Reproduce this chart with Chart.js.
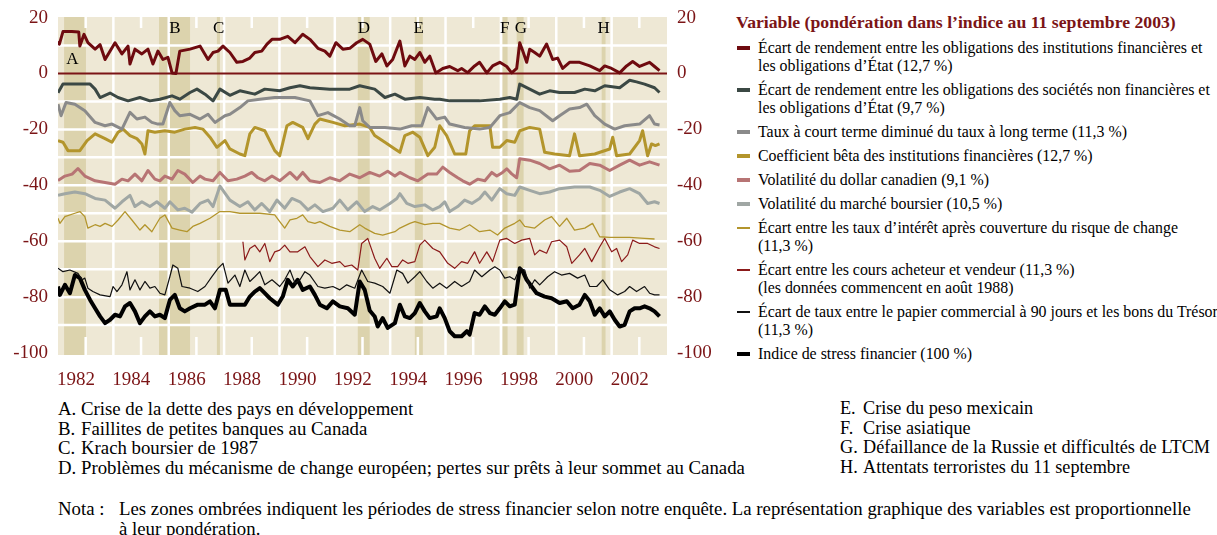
<!DOCTYPE html>
<html lang="fr">
<head>
<meta charset="utf-8">
<title>Indice de stress financier</title>
<script src="https://cdn.jsdelivr.net/npm/chart.js@4.4.1/dist/chart.umd.min.js"></script>
<style>
  body {
    margin: 0;
    background: #fff;
    font-family: "Liberation Serif", serif;
    color: #000;
    width: 1217px;
    height: 535px;
    position: relative;
    overflow: hidden;
  }
  #chart-box { position: absolute; left: 0; top: 0; width: 720px; height: 395px; }
  #legend { position: absolute; left: 736px; top: 10px; }
  #legend h2 {
    margin: 0 0 5px 0;
    font-size: 17.7px;
    line-height: 24px;
    font-weight: bold;
    color: #7b1416;
    white-space: nowrap;
  }
  .item {
    position: relative;
    padding-left: 22px;
    font-size: 15.9px;
    line-height: 18px;
    margin-bottom: 6px;
    white-space: nowrap;
  }
  .swatch { position: absolute; left: 1px; width: 13px; }
  #notes {
    position: absolute;
    left: 58px;
    top: 399px;
    font-size: 18.8px;
    line-height: 19.7px;
    white-space: nowrap;
  }
  .col { position: absolute; top: 0; }
  .col span { display: inline-block; width: 23px; }
  .col.right { font-size: 18.2px; }
  #nota { position: absolute; left: 0; top: 100px; }
  #nota span { display: inline-block; width: 61px; vertical-align: top; }
  #nota div { display: inline-block; }
</style>
</head>
<body>
<div id="chart-box"><canvas id="chart"></canvas></div>

<div id="legend">
  <h2>Variable (pondération dans l’indice au 11 septembre 2003)</h2>
  <div id="legend-items"></div>
</div>

<div id="notes">
  <div class="col" style="left:0">
    <div><span>A.</span>Crise de la dette des pays en développement</div>
    <div><span>B.</span>Faillites de petites banques au Canada</div>
    <div><span>C.</span>Krach boursier de 1987</div>
    <div><span>D.</span>Problèmes du mécanisme de change européen; pertes sur prêts à leur sommet au Canada</div>
  </div>
  <div class="col right" style="left:782px">
    <div><span>E.</span>Crise du peso mexicain</div>
    <div><span>F.</span>Crise asiatique</div>
    <div><span>G.</span>Défaillance de la Russie et difficultés de LTCM</div>
    <div><span>H.</span>Attentats terroristes du 11 septembre</div>
  </div>
  <div id="nota"><span>Nota :</span><div>Les zones ombrées indiquent les périodes de stress financier selon notre enquête. La représentation graphique des variables est proportionnelle<br>à leur pondération.</div></div>
</div>

<script>
// [année, valeur]
const finSpread = [[1982.00,11.5],[1982.05,10.5],[1982.18,15],[1982.5,15],[1982.75,14.8],[1982.79,9.8],[1982.94,14],[1983.08,11],[1983.34,8.7],[1983.52,10.3],[1983.70,5],[1984.06,11],[1984.31,7],[1984.53,9.8],[1984.60,3.4],[1984.78,8.7],[1985.03,7],[1985.25,8.7],[1985.43,3.4],[1985.61,8],[1985.79,5],[1985.97,5.8],[1986.12,0.2],[1986.26,0],[1986.40,8],[1986.77,8.7],[1987.13,9.8],[1987.42,5],[1987.60,7.5],[1987.78,8],[1987.96,9.8],[1988.21,7.5],[1988.46,4],[1988.68,4.3],[1988.93,5.5],[1989.11,7.5],[1989.36,8],[1989.55,10.5],[1989.73,12.2],[1990.01,12.2],[1990.30,13.3],[1990.56,11],[1990.84,14],[1991.10,12.2],[1991.39,9],[1991.64,8],[1991.82,6.2],[1992.04,11],[1992.29,8.7],[1992.54,9],[1992.79,11],[1993.01,12.2],[1993.26,10.5],[1993.48,4.3],[1993.70,7],[1993.88,2.7],[1994.09,5],[1994.35,11.6],[1994.53,2.7],[1994.71,6.2],[1994.89,5],[1995.07,7.5],[1995.25,4],[1995.43,6.2],[1995.65,0.2],[1995.90,1.8],[1996.15,2.5],[1996.44,1],[1996.58,1.8],[1996.80,0.3],[1997.05,2.7],[1997.23,4],[1997.49,0.2],[1997.70,2.7],[1997.96,4],[1998.21,2.5],[1998.39,0.2],[1998.57,1.8],[1998.68,11],[1998.79,8],[1998.93,4],[1999.04,8.7],[1999.22,7.5],[1999.40,6.2],[1999.65,10.5],[1999.87,5],[2000.05,5.5],[2000.23,1.8],[2000.48,4],[2000.84,4],[2001.21,2.7],[2001.57,1],[2001.75,2.7],[2002.00,1.8],[2002.29,0.2],[2002.54,2.7],[2002.76,4.3],[2003.01,2.5],[2003.37,4],[2003.55,2.5],[2003.73,1]];

const corpSpread = [[1982.00,-6.9],[1982.18,-3.8],[1982.61,-3.8],[1983.16,-3.8],[1983.34,-5.6],[1983.52,-8.6],[1983.88,-7.0],[1984.17,-8.6],[1984.53,-9.8],[1984.96,-8.6],[1985.32,-9.8],[1985.68,-9.2],[1986.12,-8.0],[1986.40,-9.2],[1986.77,-6.8],[1987.02,-5.6],[1987.31,-7.4],[1987.60,-9.8],[1987.85,-5.6],[1988.21,-7.8],[1988.57,-6.2],[1989.11,-7.4],[1989.47,-5.6],[1990.01,-6.2],[1990.38,-5.1],[1990.74,-4.4],[1991.10,-5.1],[1991.82,-5.6],[1992.54,-5.6],[1992.90,-4.4],[1993.44,-5.6],[1993.81,-8.6],[1994.17,-7.4],[1994.53,-9.2],[1995.07,-8.6],[1995.61,-9.2],[1995.79,-9.2],[1996.15,-9.8],[1996.51,-9.8],[1997.23,-9.8],[1997.96,-9.2],[1998.32,-8.6],[1998.57,-9.2],[1998.68,-3.8],[1999.04,-5.6],[1999.40,-7.4],[1999.76,-6.2],[2000.12,-6.8],[2000.66,-6.8],[2001.03,-5.6],[2001.39,-6.2],[2001.75,-4.4],[2002.29,-5.1],[2002.65,-2.4],[2002.90,-3.0],[2003.19,-3.8],[2003.55,-5.1],[2003.73,-6.8]];

const termSpread = [[1982.00,-11.0],[1982.11,-15.1],[1982.29,-10.4],[1982.61,-11.0],[1982.97,-13.3],[1983.34,-17.5],[1983.70,-18.7],[1983.95,-18.1],[1984.31,-19.9],[1984.60,-13.9],[1984.85,-16.3],[1985.14,-15.6],[1985.39,-17.5],[1985.61,-18.1],[1985.79,-18.1],[1986.04,-10.4],[1986.22,-13.3],[1986.40,-15.1],[1986.77,-14.6],[1987.13,-16.3],[1987.42,-14.6],[1987.67,-17.5],[1988.03,-15.1],[1988.21,-14.6],[1988.57,-12.2],[1988.86,-9.8],[1989.29,-9.2],[1989.83,-8.6],[1990.56,-8.6],[1991.10,-9.8],[1991.39,-15.1],[1991.75,-14.0],[1992.18,-16.3],[1992.54,-18.7],[1992.72,-18.7],[1992.90,-12.2],[1993.01,-16.9],[1993.26,-19.3],[1993.81,-19.3],[1994.35,-19.9],[1994.78,-18.7],[1995.14,-18.7],[1995.36,-12.2],[1995.68,-16.3],[1995.97,-15.6],[1996.15,-18.1],[1996.69,-19.3],[1997.23,-19.9],[1997.60,-19.3],[1997.96,-15.1],[1998.32,-14.0],[1998.68,-10.4],[1999.04,-12.2],[1999.40,-13.3],[1999.87,-16.9],[2000.12,-15.1],[2000.48,-12.7],[2000.84,-12.2],[2001.10,-11.0],[2001.39,-15.1],[2001.75,-18.1],[2002.11,-19.9],[2002.47,-18.7],[2003.01,-18.1],[2003.37,-15.1],[2003.55,-18.1],[2003.73,-18.4]];

const bankBeta = [[1982.00,-24.0],[1982.18,-24.6],[1982.36,-27.6],[1982.79,-27.6],[1983.05,-24.0],[1983.34,-21.6],[1983.70,-23.3],[1983.95,-24.6],[1984.17,-21.0],[1984.35,-19.9],[1984.60,-22.2],[1984.85,-23.3],[1985.03,-25.2],[1985.14,-28.8],[1985.25,-20.5],[1985.50,-21.0],[1985.86,-20.5],[1986.22,-21.0],[1986.58,-19.9],[1986.95,-19.3],[1987.23,-19.9],[1987.49,-22.8],[1987.74,-26.4],[1988.03,-24.0],[1988.21,-27.0],[1988.57,-28.8],[1988.75,-29.4],[1988.93,-21.6],[1989.11,-19.3],[1989.47,-20.5],[1989.83,-27.6],[1990.01,-29.4],[1990.27,-18.7],[1990.48,-17.5],[1990.84,-19.3],[1991.03,-23.3],[1991.28,-18.1],[1991.46,-16.3],[1991.93,-17.5],[1992.36,-18.7],[1992.90,-18.1],[1993.26,-19.3],[1993.44,-22.2],[1993.81,-24.6],[1994.17,-27.0],[1994.35,-28.2],[1994.53,-22.2],[1994.82,-21.0],[1995.07,-22.8],[1995.36,-29.4],[1995.61,-26.4],[1995.79,-18.7],[1996.04,-22.2],[1996.33,-28.8],[1996.51,-28.8],[1996.73,-28.8],[1996.87,-20.5],[1997.05,-18.7],[1997.60,-18.7],[1997.70,-26.4],[1997.96,-26.4],[1998.21,-24.0],[1998.50,-24.6],[1998.68,-20.5],[1999.04,-19.3],[1999.40,-19.9],[1999.58,-28.2],[1999.94,-28.8],[2000.48,-29.4],[2000.66,-21.6],[2000.84,-29.4],[2001.39,-28.8],[2001.93,-27.0],[2002.04,-22.8],[2002.18,-29.4],[2002.65,-28.8],[2003.01,-24.0],[2003.12,-20.5],[2003.30,-29.4],[2003.44,-25.2],[2003.58,-25.8],[2003.73,-25.2]];

const cadVol = [[1982.00,-38.3],[1982.25,-36.7],[1982.51,-36.0],[1982.72,-34.0],[1982.97,-36.7],[1983.34,-38.4],[1983.70,-39.0],[1984.06,-39.6],[1984.31,-37.8],[1984.53,-38.4],[1984.78,-36.0],[1985.03,-38.4],[1985.25,-34.7],[1985.50,-37.8],[1985.68,-38.4],[1985.86,-36.7],[1986.12,-37.8],[1986.33,-34.7],[1986.58,-36.0],[1986.87,-39.0],[1987.13,-36.7],[1987.31,-37.8],[1987.60,-38.4],[1987.85,-35.4],[1988.14,-38.4],[1988.46,-37.8],[1988.75,-36.7],[1989.00,-35.4],[1989.22,-37.3],[1989.47,-38.4],[1989.73,-36.7],[1990.01,-38.4],[1990.38,-35.4],[1990.63,-37.8],[1990.84,-35.4],[1991.10,-38.4],[1991.46,-39.0],[1991.82,-37.3],[1992.18,-38.4],[1992.54,-36.0],[1992.90,-37.3],[1993.26,-35.4],[1993.62,-36.7],[1993.91,-35.0],[1994.17,-36.7],[1994.35,-35.4],[1994.71,-37.3],[1995.00,-38.4],[1995.36,-36.0],[1995.68,-36.0],[1995.90,-33.5],[1996.15,-35.4],[1996.44,-37.3],[1996.62,-38.4],[1996.87,-39.6],[1997.16,-37.8],[1997.42,-38.4],[1997.67,-35.4],[1997.85,-36.7],[1998.06,-35.4],[1998.21,-34.1],[1998.39,-35.9],[1998.57,-37.3],[1998.68,-30.5],[1999.04,-31.0],[1999.40,-32.2],[1999.76,-34.1],[2000.12,-32.8],[2000.48,-35.0],[2000.84,-34.7],[2001.21,-32.2],[2001.57,-32.8],[2001.93,-34.7],[2002.29,-32.8],[2002.65,-31.0],[2003.01,-32.8],[2003.37,-31.6],[2003.73,-32.8]];

const stockVol = [[1982.00,-43.6],[1982.25,-43.0],[1982.61,-42.4],[1982.97,-43.0],[1983.34,-44.7],[1983.70,-45.3],[1984.06,-48.2],[1984.31,-45.9],[1984.60,-43.6],[1984.78,-47.6],[1985.03,-45.9],[1985.32,-47.6],[1985.57,-45.9],[1985.86,-48.2],[1986.04,-45.9],[1986.33,-48.8],[1986.58,-48.2],[1986.84,-49.6],[1987.13,-46.5],[1987.42,-45.3],[1987.60,-47.6],[1987.85,-40.3],[1988.21,-45.3],[1988.57,-47.6],[1988.86,-45.9],[1989.11,-48.8],[1989.36,-46.5],[1989.65,-49.4],[1989.91,-45.3],[1990.19,-48.2],[1990.45,-44.7],[1990.74,-45.9],[1991.03,-48.8],[1991.28,-47.0],[1991.57,-49.4],[1991.93,-48.2],[1992.18,-45.3],[1992.47,-48.8],[1992.79,-45.9],[1993.08,-49.4],[1993.37,-47.6],[1993.62,-48.8],[1993.99,-46.5],[1994.24,-44.7],[1994.35,-43.0],[1994.60,-46.5],[1994.89,-47.6],[1995.25,-47.0],[1995.54,-48.8],[1995.79,-47.6],[1995.97,-45.9],[1996.15,-49.4],[1996.44,-47.6],[1996.69,-45.3],[1996.95,-46.5],[1997.23,-44.7],[1997.42,-42.4],[1997.67,-45.3],[1997.96,-41.2],[1998.21,-43.0],[1998.50,-43.6],[1998.68,-40.6],[1999.04,-41.8],[1999.40,-43.0],[1999.76,-42.4],[2000.12,-41.2],[2000.66,-40.6],[2001.21,-40.6],[2001.57,-41.8],[2001.93,-44.0],[2002.29,-42.4],[2002.65,-41.2],[2003.01,-43.0],[2003.30,-46.5],[2003.55,-45.9],[2003.73,-46.5]];

const coveredSpread = [[1982.00,-51.8],[1982.07,-53.6],[1982.25,-51.2],[1982.61,-50.0],[1982.79,-49.4],[1982.97,-51.2],[1983.08,-55.3],[1983.34,-54.1],[1983.52,-54.7],[1983.70,-53.6],[1983.95,-54.7],[1984.17,-52.4],[1984.42,-49.4],[1984.67,-52.4],[1984.96,-56.0],[1985.14,-54.1],[1985.39,-56.6],[1985.68,-51.8],[1985.86,-50.6],[1986.12,-55.3],[1986.40,-56.0],[1986.66,-56.6],[1986.87,-54.7],[1987.13,-53.6],[1987.49,-51.8],[1987.85,-49.4],[1988.21,-49.4],[1988.57,-50.0],[1989.29,-50.0],[1989.83,-50.6],[1990.01,-53.0],[1990.19,-55.3],[1990.38,-52.4],[1990.63,-51.8],[1990.84,-50.6],[1991.03,-53.0],[1991.28,-53.6],[1991.46,-53.0],[1991.82,-54.7],[1992.18,-56.0],[1992.54,-56.6],[1992.90,-54.1],[1993.08,-55.3],[1993.44,-57.2],[1993.73,-57.8],[1994.17,-56.6],[1994.35,-55.3],[1994.71,-53.6],[1994.89,-53.0],[1995.25,-54.1],[1995.54,-53.6],[1995.79,-53.6],[1996.15,-55.3],[1996.51,-56.0],[1996.87,-54.1],[1997.23,-56.6],[1997.60,-56.0],[1997.88,-57.8],[1998.14,-55.3],[1998.50,-53.6],[1998.68,-52.4],[1998.86,-54.7],[1999.22,-55.3],[1999.58,-52.4],[1999.83,-51.2],[2000.12,-54.7],[2000.38,-51.8],[2000.66,-56.0],[2001.03,-55.3],[2001.31,-53.6],[2001.57,-58.4],[2001.93,-58.6],[2002.65,-58.6],[2003.19,-59.0],[2003.55,-59.2]];

const bidAsk = [[1988.68,-60.2],[1988.75,-66.7],[1988.93,-62.6],[1989.11,-61.4],[1989.29,-63.8],[1989.47,-60.8],[1989.65,-67.3],[1989.83,-63.8],[1990.01,-63.2],[1990.19,-61.4],[1990.38,-63.8],[1990.66,-63.8],[1990.92,-62.0],[1991.10,-65.5],[1991.39,-69.1],[1991.64,-66.7],[1991.89,-67.9],[1992.18,-67.3],[1992.36,-69.1],[1992.61,-68.5],[1992.83,-70.3],[1992.97,-60.8],[1993.19,-59.0],[1993.44,-66.1],[1993.62,-69.7],[1993.88,-66.1],[1994.06,-69.1],[1994.27,-69.1],[1994.45,-66.7],[1994.64,-67.9],[1994.89,-67.3],[1995.07,-61.4],[1995.25,-59.6],[1995.54,-62.6],[1995.79,-63.8],[1996.08,-67.9],[1996.33,-69.7],[1996.58,-67.3],[1996.80,-67.9],[1997.05,-63.8],[1997.23,-67.9],[1997.49,-63.8],[1997.70,-67.3],[1997.96,-59.6],[1998.21,-59.0],[1998.50,-60.8],[1998.75,-59.6],[1999.04,-59.0],[1999.22,-64.9],[1999.40,-63.2],[1999.65,-64.3],[1999.83,-60.2],[2000.12,-59.6],[2000.38,-62.0],[2000.56,-67.9],[2000.84,-64.9],[2001.03,-62.6],[2001.28,-67.3],[2001.57,-62.0],[2001.75,-59.0],[2002.00,-63.8],[2002.18,-62.6],[2002.36,-67.3],[2002.58,-64.9],[2002.76,-59.6],[2003.01,-60.8],[2003.30,-60.8],[2003.55,-62.0],[2003.73,-62.6]];

const cpSpread = [[1982.00,-69.7],[1982.18,-70.9],[1982.43,-70.3],[1982.72,-71.5],[1982.87,-73.8],[1982.97,-73.2],[1983.08,-76.8],[1983.26,-78.0],[1983.52,-79.2],[1983.88,-79.8],[1983.99,-76.2],[1984.13,-78.0],[1984.31,-75.6],[1984.49,-70.9],[1984.60,-77.4],[1984.78,-73.8],[1984.96,-77.4],[1985.14,-74.4],[1985.32,-76.8],[1985.50,-76.2],[1985.68,-78.6],[1985.86,-79.2],[1986.04,-72.7],[1986.15,-68.5],[1986.33,-69.7],[1986.48,-76.2],[1986.77,-76.8],[1987.05,-78.0],[1987.31,-76.2],[1987.56,-72.7],[1987.78,-69.7],[1987.96,-67.9],[1988.14,-75.0],[1988.39,-72.1],[1988.57,-76.2],[1988.75,-70.3],[1988.93,-74.4],[1989.11,-72.7],[1989.29,-70.9],[1989.47,-75.6],[1989.73,-73.8],[1990.01,-76.2],[1990.19,-73.8],[1990.38,-70.3],[1990.56,-75.0],[1990.74,-73.8],[1990.92,-70.9],[1991.10,-72.1],[1991.39,-76.2],[1991.64,-76.8],[1991.93,-76.2],[1992.18,-77.4],[1992.43,-75.6],[1992.72,-76.8],[1992.97,-70.3],[1993.19,-74.4],[1993.44,-75.0],[1993.73,-76.2],[1993.99,-78.6],[1994.24,-70.3],[1994.45,-71.5],[1994.64,-75.0],[1994.89,-72.7],[1995.07,-70.9],[1995.32,-74.4],[1995.54,-76.8],[1995.79,-75.0],[1996.04,-76.8],[1996.33,-74.4],[1996.58,-76.2],[1996.87,-74.4],[1997.05,-70.3],[1997.31,-72.7],[1997.60,-70.3],[1997.78,-69.1],[1997.96,-70.3],[1998.14,-73.2],[1998.32,-72.7],[1998.50,-73.8],[1998.68,-69.7],[1998.86,-70.3],[1999.04,-76.8],[1999.22,-73.8],[1999.40,-75.6],[1999.69,-72.7],[1999.94,-70.9],[2000.19,-72.1],[2000.48,-71.5],[2000.77,-73.2],[2001.03,-72.1],[2001.21,-76.2],[2001.46,-76.2],[2001.68,-73.8],[2001.93,-77.4],[2002.22,-79.2],[2002.47,-78.0],[2002.65,-76.2],[2002.90,-78.0],[2003.19,-76.2],[2003.37,-78.6],[2003.55,-79.2],[2003.73,-79.2]];

const stressIndex = [[1982.00,-76.2],[1982.07,-79.2],[1982.25,-75.6],[1982.43,-78.6],[1982.61,-72.1],[1982.79,-73.2],[1982.97,-77.4],[1983.16,-81.0],[1983.34,-84.0],[1983.52,-86.9],[1983.70,-89.3],[1983.88,-88.1],[1984.06,-86.3],[1984.24,-86.9],[1984.42,-83.3],[1984.60,-82.1],[1984.78,-85.1],[1984.96,-89.3],[1985.14,-86.9],[1985.32,-85.1],[1985.50,-86.9],[1985.68,-86.3],[1985.86,-87.5],[1986.04,-81.0],[1986.22,-79.2],[1986.40,-84.0],[1986.58,-85.1],[1986.77,-84.0],[1987.05,-82.7],[1987.31,-82.7],[1987.49,-81.5],[1987.67,-84.0],[1987.85,-77.4],[1988.06,-77.4],[1988.21,-82.7],[1988.57,-82.7],[1988.75,-82.7],[1988.93,-79.8],[1989.11,-78.0],[1989.29,-76.8],[1989.47,-78.6],[1989.65,-80.4],[1989.94,-82.7],[1990.12,-79.8],[1990.30,-73.8],[1990.48,-76.2],[1990.66,-73.8],[1990.84,-77.4],[1991.10,-76.2],[1991.28,-79.2],[1991.46,-82.7],[1991.71,-84.0],[1991.93,-81.5],[1992.18,-83.3],[1992.47,-84.0],[1992.72,-86.3],[1992.90,-74.4],[1993.08,-77.4],[1993.26,-84.8],[1993.44,-86.9],[1993.55,-90.5],[1993.73,-87.5],[1993.91,-91.0],[1994.17,-89.3],[1994.35,-82.7],[1994.53,-86.9],[1994.71,-87.5],[1994.89,-85.7],[1995.07,-82.1],[1995.25,-85.1],[1995.43,-87.5],[1995.68,-86.9],[1995.79,-84.0],[1995.97,-87.5],[1996.15,-92.2],[1996.33,-94.0],[1996.58,-94.0],[1996.77,-92.2],[1996.87,-93.4],[1997.05,-85.7],[1997.23,-86.3],[1997.42,-83.3],[1997.60,-85.7],[1997.78,-86.3],[1997.96,-84.0],[1998.14,-81.5],[1998.32,-83.3],[1998.50,-82.7],[1998.68,-69.7],[1998.79,-70.9],[1998.93,-73.8],[1999.11,-76.2],[1999.29,-78.6],[1999.58,-79.8],[1999.83,-80.4],[2000.12,-82.1],[2000.38,-81.5],[2000.59,-84.0],[2000.84,-82.7],[2001.03,-79.2],[2001.21,-81.5],[2001.39,-86.3],[2001.57,-84.0],[2001.75,-86.9],[2001.93,-85.1],[2002.11,-88.1],[2002.29,-90.5],[2002.47,-89.9],[2002.65,-85.1],[2002.83,-84.0],[2003.01,-84.0],[2003.19,-83.3],[2003.37,-84.0],[2003.55,-85.1],[2003.73,-86.9]];

// périodes de stress (zones ombrées) et leurs lettres
const stressPeriods = [[1982.22,1983.01],[1985.65,1986.77],[1987.74,1987.85],[1992.83,1993.26],[1994.89,1995.18],[1998.06,1998.24],[1998.57,1998.82],[2001.64,2001.78]];
const periodLetters = ["A","B","C","D","E","F","G","H"];
const letterYears = [1982.52,1986.22,1987.8,1993.05,1995.03,1998.14,1998.72,2001.71];
const letterValues = [5.0,16.2,16.2,16.2,16.2,16.2,16.2,16.2];

const yTicks = [20, 0, -20, -40, -60, -80, -100];
const xYears = [1982, 1984, 1986, 1988, 1990, 1992, 1994, 1996, 1998, 2000, 2002];

const series = [
  { label: "Écart de rendement entre les obligations des institutions financières et<br>les obligations d’État (12,7 %)", data: finSpread, color: "#6e0a0f", width: 3 },
  { label: "Écart de rendement entre les obligations des sociétés non financières et<br>les obligations d’État (9,7 %)", data: corpSpread, color: "#3b4844", width: 3 },
  { label: "Taux à court terme diminué du taux à long terme (11,3 %)", data: termSpread, color: "#8a8a8a", width: 3 },
  { label: "Coefficient bêta des institutions financières (12,7 %)", data: bankBeta, color: "#b3952c", width: 3 },
  { label: "Volatilité du dollar canadien (9,1 %)", data: cadVol, color: "#b77474", width: 3 },
  { label: "Volatilité du marché boursier (10,5 %)", data: stockVol, color: "#a0a7a4", width: 3 },
  { label: "Écart entre les taux d’intérêt après couverture du risque de change<br>(11,3 %)", data: coveredSpread, color: "#b3952c", width: 1.3 },
  { label: "Écart entre les cours acheteur et vendeur (11,3 %)<br>(les données commencent en août 1988)", data: bidAsk, color: "#8b1a1a", width: 1.2 },
  { label: "Écart de taux entre le papier commercial à 90 jours et les bons du Trésor<br>(11,3 %)", data: cpSpread, color: "#111111", width: 1.2 },
  { label: "Indice de stress financier (100 %)", data: stressIndex, color: "#000000", width: 4 },
];

const axisRed = "#7b1416";
const tickFont = { family: "Liberation Serif", size: 19 };
// smaller line height keeps the top label from pushing the plot down
const yTickFont = { family: "Liberation Serif", size: 19, lineHeight: 0.7 };

// Build the html legend
function buildLegend() {
  const box = document.getElementById("legend-items");
  series.forEach((s) => {
    const item = document.createElement("div");
    item.className = "item";
    const sw = document.createElement("div");
    sw.className = "swatch";
    const h = s.width >= 3 ? 4 : 2;
    sw.style.height = h + "px";
    sw.style.top = (9 - h / 2) + "px";
    sw.style.background = s.color;
    item.appendChild(sw);
    const txt = document.createElement("span");
    txt.innerHTML = s.label;
    item.appendChild(txt);
    box.appendChild(item);
  });
}

// Background, shaded periods, white grid and zero line
const backdrop = {
  id: "backdrop",
  beforeDraw(chart) {
    const { ctx, chartArea: a, scales } = chart;
    const x = scales.x, y = scales.y;
    ctx.save();
    ctx.fillStyle = "#eee8d5";
    ctx.fillRect(a.left, a.top, a.right - a.left, a.bottom - a.top);

    ctx.fillStyle = "#dcd3ad";
    stressPeriods.forEach(([s, e]) => {
      const x0 = x.getPixelForValue(s);
      const x1 = x.getPixelForValue(e);
      ctx.fillRect(x0, a.top, x1 - x0, a.bottom - a.top);
    });

    ctx.strokeStyle = "#ffffff";
    ctx.lineWidth = 2.5;
    for (let v = -90; v <= 10; v += 10) {
      if (v === 0) continue;
      const py = y.getPixelForValue(v);
      ctx.beginPath();
      ctx.moveTo(a.left, py);
      ctx.lineTo(a.right, py);
      ctx.stroke();
    }
    for (let yr = 1983; yr <= 2003; yr++) {
      const px = x.getPixelForValue(yr);
      ctx.beginPath();
      if (yr % 2 === 0) {
        ctx.moveTo(px, a.top);
        ctx.lineTo(px, a.bottom);
      } else {
        ctx.moveTo(px, a.top);
        ctx.lineTo(px, a.top + 11);
        ctx.moveTo(px, a.bottom - 18);
        ctx.lineTo(px, a.bottom);
      }
      ctx.stroke();
    }

    const zero = y.getPixelForValue(0);
    ctx.strokeStyle = axisRed;
    ctx.lineWidth = 2;
    ctx.beginPath();
    ctx.moveTo(a.left, zero);
    ctx.lineTo(a.right, zero);
    ctx.stroke();
    ctx.restore();
  },
  beforeDatasetsDraw(chart) {
    const { ctx, scales } = chart;
    ctx.save();
    ctx.fillStyle = "#000";
    ctx.font = "17px 'Liberation Serif'";
    ctx.textAlign = "center";
    ctx.textBaseline = "middle";
    periodLetters.forEach((l, i) => {
      ctx.fillText(l, scales.x.getPixelForValue(letterYears[i]), scales.y.getPixelForValue(letterValues[i]));
    });
    ctx.restore();
  },
};

function renderChart() {
  const ctx = document.getElementById("chart").getContext("2d");
  const yAxis = (pos, width) => ({
    type: "linear",
    position: pos,
    min: -100.7,
    max: 20.2,
    grid: { display: false, drawTicks: false },
    border: { display: false },
    afterBuildTicks: (scale) => {
      scale.ticks = yTicks.map((v) => ({ value: v }));
    },
    afterFit: (scale) => {
      scale.width = width;
    },
    ticks: { color: axisRed, font: yTickFont, padding: 10 },
  });

  new Chart(ctx, {
    type: "line",
    data: {
      datasets: series.map((s) => ({
        label: s.label,
        data: s.data,
        borderColor: s.color,
        borderWidth: s.width,
        pointRadius: 0,
        fill: false,
        tension: 0,
        borderJoinStyle: "round",
      })),
    },
    options: {
      responsive: true,
      maintainAspectRatio: false,
      animation: false,
      events: [],
      layout: { padding: { top: 17, left: 0, right: 0, bottom: 0 } },
      plugins: { legend: { display: false }, tooltip: { enabled: false } },
      scales: {
        x: {
          type: "linear",
          min: 1982,
          max: 2004,
          grid: { display: false, drawTicks: false },
          border: { display: false },
          afterBuildTicks: (scale) => {
            scale.ticks = xYears.map((yr) => ({ value: yr + 0.65 }));
          },
          afterFit: (scale) => {
            scale.height = 40;
          },
          ticks: {
            color: axisRed,
            font: tickFont,
            padding: 14,
            maxRotation: 0,
            autoSkip: false,
            callback: (v) => String(Math.round(v - 0.65)),
          },
        },
        y: yAxis("left", 58),
        y2: yAxis("right", 53),
      },
    },
    plugins: [backdrop],
  });
}

buildLegend();
renderChart();
</script>
</body>
</html>
